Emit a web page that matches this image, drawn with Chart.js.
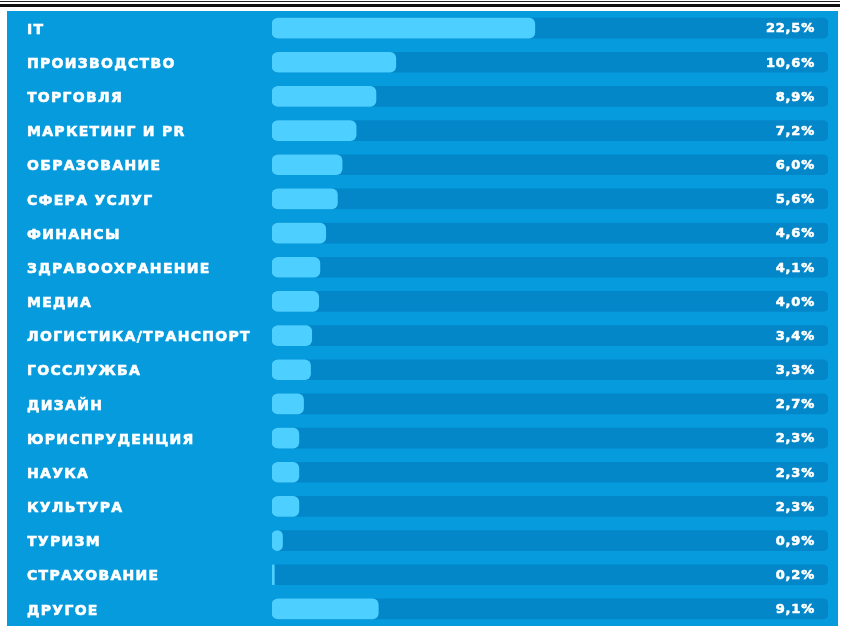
<!DOCTYPE html>
<html>
<head>
<meta charset="utf-8">
<script src="https://cdn.jsdelivr.net/npm/chart.js@4"></script>
<style>
  html, body { margin: 0; padding: 0; background: #fff; }
  body { width: 843px; height: 626px; position: relative; overflow: hidden; }
  .rule-thin { position: absolute; left: 0; top: 1px; width: 840px; height: 1px; background: #222; }
  .rule-thick { position: absolute; left: 0; top: 4px; width: 840px; height: 3px; background: #111; }
  .panel { position: absolute; left: 7px; top: 11px; width: 831px; height: 615px; background: #069bdc; }
</style>
</head>
<body>
<div class="rule-thin"></div>
<div class="rule-thick"></div>
<div class="panel"><canvas id="sectorChart"></canvas></div>
<script>
// отрасли и доли (%)
const sectors = [
  'IT', 'ПРОИЗВОДСТВО', 'ТОРГОВЛЯ', 'МАРКЕТИНГ И PR', 'ОБРАЗОВАНИЕ',
  'СФЕРА УСЛУГ', 'ФИНАНСЫ', 'ЗДРАВООХРАНЕНИЕ', 'МЕДИА', 'ЛОГИСТИКА/ТРАНСПОРТ',
  'ГОССЛУЖБА', 'ДИЗАЙН', 'ЮРИСПРУДЕНЦИЯ', 'НАУКА', 'КУЛЬТУРА',
  'ТУРИЗМ', 'СТРАХОВАНИЕ', 'ДРУГОЕ'
];
const shares = [22.5, 10.6, 8.9, 7.2, 6.0, 5.6, 4.6, 4.1, 4.0, 3.4, 3.3, 2.7, 2.3, 2.3, 2.3, 0.9, 0.2, 9.1];
// длина "дорожки" под каждой полосой, в тех же процентах
const trackMax = 47.6;
const tracks = sectors.map(() => trackMax);

const labelFont = { family: 'DejaVu Sans', weight: 'bold', size: 14 };

// подписи процентов справа внутри дорожки
const valueLabels = {
  id: 'valueLabels',
  beforeDraw(chart) {
    chart.ctx.letterSpacing = '1.3px';
  },
  afterDatasetsDraw(chart) {
    const ctx = chart.ctx;
    const yScale = chart.scales.y;
    ctx.save();
    ctx.letterSpacing = '0.8px';
    ctx.font = 'bold 13px "DejaVu Sans"';
    ctx.fillStyle = '#ffffff';
    ctx.strokeStyle = '#ffffff';
    ctx.lineWidth = 0.6;
    ctx.textAlign = 'right';
    ctx.textBaseline = 'middle';
    shares.forEach((v, i) => {
      const y = yScale.getPixelForValue(i) + 1;
      const txt = v.toFixed(1).replace('.', ',') + '%';
      ctx.strokeText(txt, chart.chartArea.right - 13, y);
      ctx.fillText(txt, chart.chartArea.right - 13, y);
    });
    ctx.restore();
  }
};

const ctx = document.getElementById('sectorChart').getContext('2d');
const sectorChart = new Chart(ctx, {
  type: 'bar',
  data: {
    labels: sectors,
    datasets: [
      {
        data: shares,
        backgroundColor: '#4dd0ff',
        borderRadius: 6,
        borderSkipped: false,
        barThickness: 20,
        grouped: false
      },
      {
        data: tracks,
        backgroundColor: '#0387c9',
        borderRadius: 5,
        borderSkipped: false,
        barThickness: 20,
        grouped: false
      }
    ]
  },
  options: {
    indexAxis: 'y',
    responsive: true,
    maintainAspectRatio: false,
    animation: false,
    layout: { padding: { left: 20, right: 10, top: 0, bottom: 0 } },
    plugins: {
      legend: { display: false },
      tooltip: { enabled: false }
    },
    scales: {
      x: {
        display: false,
        min: 0,
        max: trackMax
      },
      y: {
        grid: { display: false, drawTicks: false },
        border: { display: false },
        ticks: {
          color: '#ffffff',
          font: labelFont,
          crossAlign: 'far',
          padding: 0,
          labelOffset: 2,
          textStrokeColor: '#ffffff',
          textStrokeWidth: 0.6
        },
        afterFit: function (scale) {
          scale.width = 245;
          scale.paddingTop = 0;
          scale.paddingBottom = 0;
        }
      }
    }
  },
  plugins: [valueLabels]
});
</script>
</body>
</html>
